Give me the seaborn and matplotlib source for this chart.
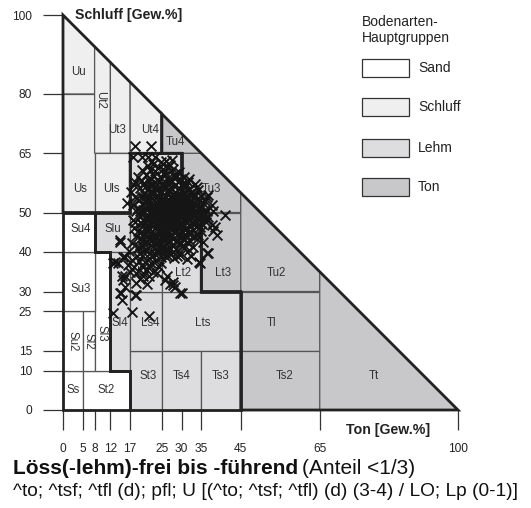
import matplotlib
matplotlib.use("Agg")
import matplotlib.pyplot as plt
from matplotlib.patches import Polygon, Rectangle
import seaborn as sns
import pandas as pd

sns.set_style("white")
plt.rcParams['font.family'] = ['Liberation Sans', 'DejaVu Sans']

# ---------------- data ----------------
x_ticks = [0, 5, 8, 12, 17, 25, 30, 35, 45, 65, 100]
y_ticks = [0, 10, 15, 25, 30, 40, 50, 65, 80, 100]

group_names = ["Sand", "Schluff", "Lehm", "Ton"]
group_colors = ["#ffffff", "#efefef", "#dddddf", "#c8c8ca"]

# soil classes: name, group, polygon (clay, silt), label pos, rotation
class_names = ["Ss", "St2", "Su2", "Sl2", "Sl3", "Su3", "Su4",
               "Slu", "Sl4", "St3", "Ls4", "Ls3", "Ls2", "Lu", "Lts", "Ts4", "Ts3", "Lt2",
               "Lt3", "Tu3", "Tu4", "Tu2", "Tl", "Ts2", "Tt",
               "Uu", "Us", "Uls", "Ut2", "Ut3", "Ut4"]
class_groups = ["Sand"] * 7 + ["Lehm"] * 11 + ["Ton"] * 7 + ["Schluff"] * 6
class_polys = [
    [(0, 0), (5, 0), (5, 10), (0, 10)],
    [(5, 0), (17, 0), (17, 10), (5, 10)],
    [(0, 10), (5, 10), (5, 25), (0, 25)],
    [(5, 10), (8, 10), (8, 25), (5, 25)],
    [(8, 10), (12, 10), (12, 40), (8, 40)],
    [(0, 25), (8, 25), (8, 40), (0, 40)],
    [(0, 40), (8, 40), (8, 50), (0, 50)],
    [(8, 40), (17, 40), (17, 50), (8, 50)],
    [(12, 10), (17, 10), (17, 40), (12, 40)],
    [(17, 0), (25, 0), (25, 15), (17, 15)],
    [(17, 15), (25, 15), (25, 30), (17, 30)],
    [(17, 30), (25, 30), (25, 40), (17, 40)],
    [(17, 40), (25, 40), (25, 50), (17, 50)],
    [(17, 50), (30, 50), (30, 65), (17, 65)],
    [(25, 15), (45, 15), (45, 30), (25, 30)],
    [(25, 0), (35, 0), (35, 15), (25, 15)],
    [(35, 0), (45, 0), (45, 15), (35, 15)],
    [(25, 30), (35, 30), (35, 50), (25, 50)],
    [(35, 30), (45, 30), (45, 50), (35, 50)],
    [(30, 50), (45, 50), (45, 55), (35, 65), (30, 65)],
    [(25, 65), (35, 65), (25, 75)],
    [(45, 30), (65, 30), (65, 35), (45, 55)],
    [(45, 15), (65, 15), (65, 30), (45, 30)],
    [(45, 0), (65, 0), (65, 15), (45, 15)],
    [(65, 0), (100, 0), (65, 35)],
    [(0, 80), (8, 80), (8, 92), (0, 100)],
    [(0, 50), (8, 50), (8, 80), (0, 80)],
    [(8, 50), (17, 50), (17, 65), (8, 65)],
    [(8, 65), (12, 65), (12, 88), (8, 92)],
    [(12, 65), (17, 65), (17, 83), (12, 88)],
    [(17, 65), (25, 65), (25, 75), (17, 83)],
]
class_label_pos = [(2.5, 5), (11, 5), (2.5, 17.5), (6.5, 17.5), (9.8, 19.5), (4.6, 30.6), (4.6, 45.8),
                   (12.6, 45.8), (14.3, 22), (21.5, 8.7), (22, 22), (21, 35), (21, 45), (23, 57), (35.4, 22),
                   (30, 8.7), (40, 8.7), (30.4, 34.6),
                   (40.4, 34.6), (37.6, 55.9), (28.4, 67.9), (54.1, 34.8), (52.8, 22.1), (56.2, 8.7), (78.6, 8.7),
                   (3.9, 85.6), (4.3, 55.9), (12.3, 55.9), (9.5, 78.5), (13.8, 71), (22, 71)]
class_label_rot = [0, 0, 270, 270, 270, 0, 0,
                   0, 0, 0, 0, 0, 0, 0, 0, 0, 0, 0,
                   0, 0, 0, 0, 0, 0, 0,
                   0, 0, 0, 270, 0, 0]

group_outlines = [
    [(0, 0), (17, 0), (17, 10), (12, 10), (12, 40), (8, 40), (8, 50), (0, 50)],
    [(0, 50), (17, 50), (17, 65), (25, 65), (25, 75), (0, 100)],
    [(8, 40), (12, 40), (12, 10), (17, 10), (17, 0), (45, 0), (45, 30), (35, 30), (35, 50),
     (30, 50), (30, 65), (17, 65), (17, 50), (8, 50)],
    [(35, 30), (45, 30), (45, 0), (100, 0), (25, 75), (25, 65), (30, 65), (30, 50), (35, 50)],
]

# samples: clay (Ton) and silt (Schluff) in Gew.%
clay = [21.5, 22.8, 26.6, 27.8, 23.4, 25.9, 28.4, 21.1, 24.6,
        22.1, 23.9, 26.3, 27.4, 29.1, 20.6, 25.1, 28.6, 22.9, 30.2,
        19.6, 21.4, 23.2, 24.8, 26.1, 27.7, 29.3, 30.6, 22.3, 25.7, 28.2, 31.4, 20.4, 32.6, 24.1,
        19.2, 20.9, 22.6, 23.8, 25.2, 26.7, 27.9, 29.4, 30.8, 32.1, 33.2, 21.8, 24.6, 28.6, 31.6, 34.4,
        18.9, 20.3, 21.7, 23.1, 24.3, 25.6, 26.9, 28.1, 29.7, 30.9, 32.4, 33.7, 35.1, 22.4, 27.5, 31.8, 26.2,
        19.4, 20.8, 22.2, 23.6, 24.9, 26.3, 27.6, 28.9, 30.3, 31.5, 32.8, 34.1, 35.6, 21.5, 25.8, 29.6, 33.4, 24.2,
        19.8, 21.2, 22.7, 24.1, 25.4, 26.8, 28.2, 29.5, 30.8, 32.2, 33.6, 34.7, 23.3, 27.3, 31.2, 20.6,
        19.1, 20.5, 22.0, 23.5, 24.8, 26.1, 27.5, 28.8, 30.2, 31.6, 33.0, 34.2, 25.5, 29.3, 21.6,
        19.6, 21.0, 22.5, 24.0, 25.3, 26.7, 28.0, 29.4, 30.7, 32.1, 23.2, 27.4,
        19.3, 20.8, 22.3, 23.7, 25.1, 26.5, 27.9, 29.2, 30.6, 31.9,
        20.1, 21.7, 23.3, 24.9, 26.4, 28.1, 29.7, 18.7,
        24.5, 25.5, 26.5, 27.5, 28.5, 25.0, 26.0, 27.0, 28.0, 24.0, 29.0, 23.0, 26.8, 25.3, 27.2, 28.7,
        24.7, 26.2, 29.8, 23.8,
        18.2, 22.2, 17.8, 19.9, 21.6, 23.3, 25.4, 18.2, 16.1, 14.4, 14.4, 17.8, 18.2,
        12.7, 15.3, 13.2, 14.9, 15.7, 14.4, 14.8, 15.3, 15.7, 18.6, 18.2, 18.6, 18.6, 20.3, 20.3, 22.9,
        21.2, 27.1, 29.6, 26.3, 20.3, 21.2, 19.9, 22.4, 20.3, 25.4, 12.7, 14.9, 17.5, 21.8, 14.0, 15.7,
        41.0, 38.5, 38.9, 36.4, 36.8, 34.7, 36.4, 30.9, 34.7, 36.4, 27.9, 30.0, 25.8, 28.4, 27.9, 31.7,
        36.8, 34.3, 38.0, 37.6, 35.9, 38.0, 37.6, 34.5,
        22.0, 24.0, 27.1, 25.3,
        21.7, 23.0, 24.4, 25.8, 27.0, 28.0, 29.6,
        20.8, 22.0, 23.7, 25.2, 26.7, 28.0, 29.8, 31.0, 32.0,
        19.9, 21.0, 22.9, 24.5, 26.5, 27.1, 29.0, 30.1, 31.9, 33.5, 34.0,
        20.2, 21.3, 23.0, 24.0, 25.9, 27.3, 28.3, 29.9, 30.3, 31.2, 32.9, 33.9, 35.5,
        19.6, 21.0, 22.9, 23.7, 25.0, 26.0, 27.7, 29.0, 30.4, 31.3, 33.0, 34.4, 36.0,
        20.0, 21.2, 22.9, 24.4, 25.4, 26.8, 28.3, 29.2, 30.9, 32.0, 33.1, 34.8, 36.3,
        20.2, 21.9, 23.0, 24.6, 25.9, 27.7, 28.7, 30.2, 31.4, 32.7, 33.9, 35.3,
        19.5, 21.3, 22.6, 24.2, 25.9, 27.0, 28.3, 29.8, 31.0, 32.4, 33.6,
        20.3, 21.8, 23.6, 24.7, 26.1, 27.2, 28.7, 30.0, 31.4,
        20.1, 21.5, 23.0, 24.4, 25.8, 27.2, 28.6, 30.0,
        19.4, 22.5, 24.1, 25.7, 27.3, 28.9,
        26.3, 27.8, 29.3, 26.9, 28.4, 30.1, 27.0, 29.5, 25.6, 31.0, 28.9, 26.4, 30.5, 27.6, 25.0,
        29.0, 31.8, 24.2, 32.3, 28.1,
        17.3, 18.0, 17.6, 18.4, 17.9, 18.6, 17.5, 18.3, 19.0, 18.8,
        16.8, 17.4, 18.1, 19.2, 20.7, 22.0, 23.5, 24.3, 17.0, 19.5, 21.7, 23.9, 16.4, 18.9, 21.9, 24.8,
        33.3, 34.9, 35.7, 36.2, 35.0, 34.0, 33.0, 32.5, 31.3, 35.4, 36.7, 33.9,
        20.0, 22.5, 24.8, 26.0, 27.5, 29.3, 30.7, 31.8, 19.7,
        22.5, 23.9, 26.9, 30.5, 31.6, 33.0, 21.2, 20.2, 20.9, 22.4, 25.7, 29.8, 31.5, 33.2, 26.4,
        24.9, 32.8, 34.0]
silt = [61.8, 62.3, 61.5, 60.9, 60.4, 60.2, 59.7, 59.6, 59.1,
        58.7, 58.2, 58.6, 57.9, 57.6, 57.4, 57.3, 58.9, 57.1, 57.2,
        56.2, 55.8, 56.5, 55.4, 56.8, 55.9, 56.1, 55.3, 54.6, 54.3, 54.8, 54.2, 54.9, 55.1, 54.1,
        53.2, 52.7, 53.6, 52.4, 53.1, 52.6, 53.5, 52.8, 53.3, 52.5, 53.8, 52.1, 52.9, 52.2, 52.1, 52.9,
        51.1, 50.6, 51.5, 50.4, 51.8, 50.9, 51.4, 50.3, 51.2, 50.7, 51.6, 50.5, 51.3, 50.1, 50.8, 50.2, 51.9,
        49.2, 48.6, 49.7, 48.3, 49.4, 48.8, 49.6, 48.4, 49.1, 48.7, 49.5, 48.9, 49.3, 48.1, 48.2, 49.8, 48.2, 49.9,
        47.3, 46.5, 47.7, 46.8, 47.4, 46.3, 47.1, 46.6, 47.8, 46.9, 47.4, 46.4, 46.2, 47.9, 46.1, 47.9,
        45.2, 44.6, 45.7, 44.4, 45.3, 44.8, 45.6, 44.3, 45.1, 44.7, 45.5, 44.2, 44.1, 45.9, 44.1,
        43.4, 42.7, 43.8, 42.4, 43.2, 42.6, 43.6, 42.3, 43.1, 42.8, 42.1, 43.9,
        41.2, 40.6, 41.7, 40.4, 41.3, 40.8, 41.6, 40.3, 41.1, 40.5,
        39.1, 38.5, 39.5, 38.7, 39.3, 38.4, 39.2, 38.9,
        50.5, 51.5, 49.5, 52.5, 51.0, 48.0, 53.0, 47.5, 49.0, 52.0, 53.5, 49.0, 50.2, 52.3, 48.7, 50.6,
        47.1, 45.9, 47.6, 51.2,
        66.8, 66.8, 64.1, 64.1, 64.1, 64.1, 62.4, 54.0, 52.3, 43.0, 42.6, 48.1, 47.5,
        37.1, 38.8, 37.5, 33.8, 33.8, 29.6, 29.5, 32.9, 31.2, 29.1, 29.1, 34.6, 32.1, 36.3, 34.6, 35.0,
        32.0, 32.0, 29.5, 33.8, 33.8, 35.4, 36.7, 37.1, 41.4, 41.4, 24.5, 27.8, 24.9, 23.8, 37.1, 38.8,
        49.4, 46.4, 44.3, 39.7, 39.7, 37.1, 54.0, 57.4, 51.5, 50.3, 31.6, 29.5, 32.9, 31.2, 32.5, 57.8,
        54.4, 55.7, 50.3, 51.9, 52.8, 45.2, 46.8, 37.5,
        60.8, 61.2, 62.0, 61.0,
        58.1, 59.3, 58.0, 59.4, 58.4, 59.2, 58.2,
        56.4, 57.0, 55.7, 56.6, 55.6, 56.6, 55.5, 56.4, 55.9,
        53.9, 54.3, 54.9, 54.7, 54.9, 54.0, 54.5, 54.0, 54.7, 54.4, 53.5,
        52.0, 53.4, 52.0, 53.5, 52.3, 52.0, 53.0, 53.7, 52.2, 53.9, 52.3, 52.0, 52.4,
        50.3, 50.9, 51.4, 50.9, 51.1, 50.3, 51.6, 50.5, 51.7, 51.0, 50.2, 51.2, 50.6,
        49.5, 49.0, 48.6, 48.6, 49.7, 48.3, 49.5, 48.0, 49.6, 48.2, 49.0, 49.7, 48.7,
        46.8, 47.2, 47.5, 47.6, 46.7, 46.6, 47.7, 46.9, 47.3, 47.7, 46.6, 47.2,
        44.8, 45.4, 44.6, 45.6, 45.3, 44.4, 45.3, 44.5, 45.8, 45.0, 44.5,
        43.0, 43.3, 43.5, 42.8, 43.6, 42.9, 42.9, 43.7, 42.5,
        41.5, 41.0, 40.9, 41.6, 40.5, 41.1, 40.8, 41.5,
        39.7, 38.9, 39.8, 38.9, 39.6, 38.9,
        50.4, 51.2, 50.9, 52.8, 48.6, 50.1, 49.2, 52.3, 49.0, 51.8, 51.7, 47.7, 48.3, 53.6, 50.0,
        46.5, 49.3, 50.8, 50.9, 54.2,
        55.2, 56.9, 51.8, 50.3, 46.2, 44.0, 42.4, 57.8, 59.0, 53.7,
        40.2, 38.1, 36.2, 37.8, 37.4, 36.4, 37.6, 36.1, 35.0, 33.2, 34.0, 34.8, 36.8, 40.9, 39.8, 37.3,
        57.3, 54.3, 50.1, 47.5, 45.3, 43.2, 41.3, 39.0, 38.3, 42.5, 48.8, 56.4,
        60.7, 63.1, 62.9, 63.0, 63.4, 60.3, 59.0, 58.6, 57.9,
        55.5, 57.3, 57.1, 56.9, 55.8, 54.7, 51.7, 48.2, 45.6, 42.9, 44.6, 42.2, 44.0, 43.9, 41.9,
        43.9, 47.2, 49.9]

samples = pd.DataFrame({"Ton": clay, "Schluff": silt})

# ---------------- figure ----------------
W, H = 531, 508
fig = plt.figure(figsize=(W / 100, H / 100), dpi=100)
ax = fig.add_axes([63 / W, (H - 410) / H, 395 / W, 395 / H])
ax.set_xlim(0, 100)
ax.set_ylim(0, 100)
for s in ax.spines.values():
    s.set_visible(False)

gcol = dict(zip(group_names, group_colors))
for name, grp, poly, lp, rot in zip(class_names, class_groups, class_polys, class_label_pos, class_label_rot):
    ax.add_patch(Polygon(poly, closed=True, facecolor=gcol[grp], edgecolor="#555555",
                         linewidth=0.9, zorder=1, clip_on=False))
    ax.text(lp[0], lp[1], name, ha="center", va="center", rotation=rot,
            fontsize=8.3, color="#333333", zorder=2)

for poly in group_outlines:
    ax.add_patch(Polygon(poly, closed=True, fill=False, edgecolor="#222222",
                         linewidth=2.0, joinstyle="miter", zorder=2.5, clip_on=False))

sns.scatterplot(data=samples, x="Ton", y="Schluff", marker="x", s=50, color="#151515",
                linewidth=1.35, ax=ax, zorder=3, legend=False, clip_on=False)

ax.set_xticks(x_ticks)
ax.set_yticks(y_ticks)
ax.set_xticklabels([str(v) for v in x_ticks])
ax.set_yticklabels([str(v) for v in y_ticks])
ax.tick_params(axis="both", bottom=True, left=True, length=14.4, width=0.9, color="#333333",
               labelsize=8.6, labelcolor="#222222", direction="out")
ax.tick_params(axis="y", pad=8)
ax.tick_params(axis="x", pad=9)
ax.set_xlabel("")
ax.set_ylabel("")

ax.text(3, 100, "Schluff [Gew.%]", ha="left", va="center", fontsize=10.2,
        fontweight="bold", color="#222222")
ax.text(93, -5.1, "Ton [Gew.%]", ha="right", va="center", fontsize=10.2,
        fontweight="bold", color="#222222")

# legend
fig.text(362 / W, 1 - 22 / H, "Bodenarten-", fontsize=10, ha="left", va="center", color="#222222")
fig.text(362 / W, 1 - 38 / H, "Hauptgruppen", fontsize=10, ha="left", va="center", color="#222222")
for gname, gc, yc in zip(group_names, group_colors, [68, 107, 148, 187]):
    fig.patches.append(Rectangle((362 / W, 1 - (yc + 8.5) / H), 47 / W, 17 / H,
                                 transform=fig.transFigure, facecolor=gc,
                                 edgecolor="#333333", linewidth=0.9))
    fig.text(418 / W, 1 - yc / H, gname, fontsize=10, ha="left", va="center", color="#222222")

# title lines
t1 = fig.text(13 / W, 1 - 469 / H, "Löss(-lehm)-frei bis -führend", fontsize=15,
              fontweight="bold", ha="left", va="center", color="#111111")
fig.canvas.draw()
bb = t1.get_window_extent()
fig.text(bb.x1 / W + 4 / W, 1 - 469 / H, "(Anteil <1/3)", fontsize=15,
         ha="left", va="center", color="#111111")
fig.text(13 / W, 1 - 491 / H,
         "^to; ^tsf; ^tfl (d); pfl; U [(^to; ^tsf; ^tfl) (d) (3-4) / LO; Lp (0-1)]",
         fontsize=13.8, ha="left", va="center", color="#111111")

fig.savefig("out.png", dpi=100)
